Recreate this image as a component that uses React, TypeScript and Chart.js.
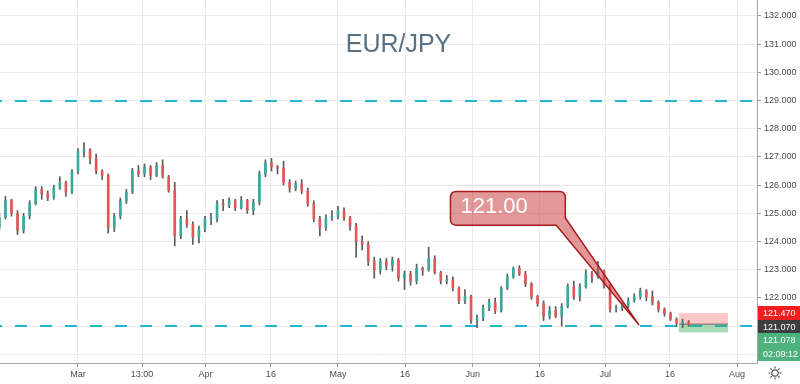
import React, { useEffect, useRef } from "react";
import { Chart, registerables } from "chart.js";
Chart.register(...registerables);

// ---------- data (daily candles, trading-day index; Mar 1 = 0) ----------
const firstIndex = -13;
const opens = [
  124.5, 124.85, 125.45, 125.0, 124.4, 124.9, 125.35, 125.85, 125.7, 125.55, 125.9, 126.1, 125.75,
  126.5, 127.2, 127.25, 126.95, 126.5, 126.35, 124.5, 124.9, 125.45, 125.75, 126.5, 126.4, 126.65, 126.35, 126.7, 126.3, 125.8, 124.2, 124.8, 124.6, 124.15,
  124.45, 124.8, 124.8, 125.35, 125.3, 125.45, 125.2, 125.45, 125.1, 125.4, 126.4, 126.8, 126.65, 126.6, 126.1, 125.9, 126.05, 125.8, 125.35, 124.8, 124.5, 124.85,
  124.9, 125.1, 124.85, 124.55, 124.0, 123.9, 123.3, 123.0, 123.3, 123.15, 123.35, 122.7, 122.85, 122.6, 123.05, 123.0, 123.4, 122.9, 122.6, 122.65, 122.35, 121.9, 122.05,
  121.2, 121.3, 121.65, 121.85, 121.55, 122.35, 122.75, 123.05, 122.85, 122.5, 122.05, 121.8, 121.35, 121.55, 121.35, 121.7, 122.4, 122.05, 122.4, 122.85,
  122.75, 122.95, 122.45, 121.6, 121.65, 121.7, 121.9, 122.05, 122.25, 122.05, 121.85, 121.6, 121.45, 121.25, 121.1, 121.15,
];
const closes = [
  124.85, 125.45, 125.0, 124.4, 124.9, 125.35, 125.85, 125.7, 125.55, 125.9, 126.1, 125.75, 126.5,
  127.2, 127.25, 126.95, 126.5, 126.35, 124.5, 124.9, 125.45, 125.75, 126.5, 126.4, 126.65, 126.35, 126.7, 126.3, 125.8, 124.2, 124.8, 124.6, 124.15, 124.45,
  124.8, 124.8, 125.35, 125.3, 125.45, 125.2, 125.45, 125.1, 125.4, 126.4, 126.8, 126.65, 126.6, 126.1, 125.9, 126.05, 125.8, 125.35, 124.8, 124.5, 124.85, 124.9,
  125.1, 124.85, 124.55, 124.0, 123.9, 123.3, 123.0, 123.3, 123.15, 123.35, 122.7, 122.85, 122.6, 123.05, 123.0, 123.4, 122.9, 122.6, 122.65, 122.35, 121.9, 122.05, 121.2,
  121.3, 121.65, 121.85, 121.55, 122.35, 122.75, 123.05, 122.85, 122.5, 122.05, 121.8, 121.35, 121.55, 121.35, 121.7, 122.4, 122.05, 122.4, 122.85, 122.75,
  122.95, 122.45, 121.6, 121.65, 121.7, 121.9, 122.05, 122.25, 122.05, 121.85, 121.6, 121.45, 121.25, 121.1, 121.15, 121.07,
];
const highs = [
  125.0, 125.6, 125.5, 125.1, 125.0, 125.45, 125.95, 125.95, 125.8, 126.0, 126.3, 126.15, 126.55,
  127.3, 127.5, 127.3, 127.1, 126.55, 126.4, 125.0, 125.55, 125.85, 126.6, 126.7, 126.75, 126.7, 126.8, 126.9, 126.35, 126.1, 124.9, 125.1, 124.7, 124.55,
  124.9, 125.0, 125.45, 125.5, 125.55, 125.5, 125.6, 125.5, 125.5, 126.5, 126.9, 126.95, 126.7, 126.85, 126.2, 126.15, 126.2, 125.9, 125.45, 124.9, 124.95, 125.1,
  125.25, 125.2, 124.9, 124.65, 124.2, 124.0, 123.45, 123.4, 123.4, 123.45, 123.4, 122.95, 122.95, 123.2, 123.1, 123.8, 123.5, 122.95, 122.8, 122.75, 122.4, 122.3, 122.1,
  121.4, 121.75, 121.95, 122.0, 122.4, 122.85, 123.1, 123.15, 122.95, 122.55, 122.1, 121.9, 121.7, 121.7, 121.8, 122.5, 122.6, 122.5, 123.0, 122.95,
  123.3, 123.0, 122.5, 121.75, 121.8, 122.0, 122.15, 122.35, 122.3, 122.25, 121.9, 121.65, 121.5, 121.3, 121.25, 121.2,
];
const lows = [
  124.4, 124.8, 124.9, 124.25, 124.3, 124.8, 125.3, 125.5, 125.45, 125.5, 125.85, 125.6, 125.7,
  126.4, 127.0, 126.75, 126.4, 126.2, 124.3, 124.35, 124.8, 125.35, 125.7, 126.3, 126.3, 126.2, 126.3, 126.25, 125.75, 123.85, 124.1, 124.5, 123.9, 123.95,
  124.35, 124.6, 124.7, 125.1, 125.2, 125.1, 125.15, 125.0, 124.95, 125.3, 126.3, 126.5, 126.4, 126.0, 125.75, 125.8, 125.7, 125.25, 124.7, 124.2, 124.4, 124.75,
  124.8, 124.75, 124.4, 123.45, 123.7, 123.15, 122.7, 122.85, 123.0, 122.95, 122.6, 122.3, 122.45, 122.5, 122.8, 122.95, 122.85, 122.5, 122.5, 122.25, 121.8, 121.8, 121.1,
  120.95, 121.2, 121.55, 121.45, 121.5, 122.3, 122.7, 122.8, 122.4, 121.95, 121.7, 121.2, 121.25, 121.3, 121.0, 121.65, 121.95, 121.9, 122.35, 122.55,
  122.7, 122.35, 121.5, 121.5, 121.55, 121.65, 121.85, 121.95, 121.9, 121.75, 121.5, 121.35, 121.2, 121.0, 120.95, 121.0,
];

const xTickPos = [0, 10.6, 21.1, 31.9, 43.0, 54.1, 65.3, 76.4, 87.2, 97.9, 109.0];
const xTickLabels = ["Mar", "13:00", "Apr", "16", "May", "16", "Jun", "16", "Jul", "16", "Aug"];
const yTickVals = [120, 121, 122, 123, 124, 125, 126, 127, 128, 129, 130, 131, 132];

const levels = [129.0, 121.0];
const calloutText = "121.00";
// bubble: [xStart, xEnd] in day index, [top, bottom] in price
const calloutBox = [61.6, 80.6, 125.78, 124.58];
const calloutTailBaseX = 79.1;
const calloutTailRightY = 124.84;
const calloutTip = [92.8, 121.04];

const positionRange = [99.4, 107.5];
const positionTarget = 121.47;
const positionEntry = 121.07;
const positionStop = 120.78;

const axisTagTexts = ["121.470", "121.070", "121.078", "02:09:12"];
const axisTagColors = ["#f21d1d", "#3e3e3e", "#4db27c", "#4db27c"];

const title = "EUR/JPY";

const UP = "#3aa99c";
const DOWN = "#e25858";
const WICK = "#5a5a5a";
const LEVEL = "#24b6d1";
const FONT = '"Liberation Sans", Arial, sans-serif';

const overlay = {
  id: "overlay",
  beforeDatasetsDraw(chart: any) {
    const { ctx, chartArea: a, scales } = chart;
    const x = scales.x, y = scales.y;
    ctx.save();
    ctx.fillStyle = "#577082";
    ctx.font = `25px ${FONT}`;
    ctx.textAlign = "center";
    ctx.textBaseline = "middle";
    ctx.fillText(title, (a.left + a.right) / 2 + 20, 45);
    ctx.strokeStyle = LEVEL;
    ctx.lineWidth = 2;
    ctx.setLineDash([12, 13]);
    ctx.lineDashOffset = -15;
    for (const lv of levels) {
      const py = Math.round(y.getPixelForValue(lv));
      ctx.beginPath();
      ctx.moveTo(a.left, py);
      ctx.lineTo(a.right, py);
      ctx.stroke();
    }
    ctx.setLineDash([]);
    const x0 = x.getPixelForValue(positionRange[0]);
    const x1 = x.getPixelForValue(positionRange[1]);
    const yT = y.getPixelForValue(positionTarget);
    const yE = y.getPixelForValue(positionEntry);
    const yS = y.getPixelForValue(positionStop);
    ctx.fillStyle = "rgba(244, 80, 80, 0.32)";
    ctx.fillRect(x0, yT, x1 - x0, yE - yT);
    ctx.fillStyle = "rgba(60, 175, 90, 0.45)";
    ctx.fillRect(x0, yE, x1 - x0, yS - yE);
    ctx.strokeStyle = "#8a8a8a";
    ctx.lineWidth = 1.5;
    ctx.beginPath();
    ctx.moveTo(x0, yE);
    ctx.lineTo(x1, yE);
    ctx.stroke();
    ctx.restore();
  },
  afterDatasetsDraw(chart: any) {
    const { ctx, scales } = chart;
    const x = scales.x, y = scales.y;
    const L = x.getPixelForValue(calloutBox[0]);
    const R = x.getPixelForValue(calloutBox[1]);
    const T = y.getPixelForValue(calloutBox[2]);
    const B = y.getPixelForValue(calloutBox[3]);
    const bx = x.getPixelForValue(calloutTailBaseX);
    const ry = y.getPixelForValue(calloutTailRightY);
    const tx = x.getPixelForValue(calloutTip[0]);
    const ty = y.getPixelForValue(calloutTip[1]);
    const r = 6;
    ctx.save();
    ctx.beginPath();
    ctx.moveTo(L + r, T);
    ctx.lineTo(R - r, T);
    ctx.quadraticCurveTo(R, T, R, T + r);
    ctx.lineTo(R, ry);
    ctx.lineTo(tx, ty);
    ctx.lineTo(bx, B);
    ctx.lineTo(L + r, B);
    ctx.quadraticCurveTo(L, B, L, B - r);
    ctx.lineTo(L, T + r);
    ctx.quadraticCurveTo(L, T, L + r, T);
    ctx.closePath();
    ctx.fillStyle = "rgba(200, 55, 60, 0.52)";
    ctx.fill();
    ctx.strokeStyle = "#a81c1c";
    ctx.lineWidth = 1.5;
    ctx.stroke();
    ctx.fillStyle = "#ffffff";
    ctx.font = `22px ${FONT}`;
    ctx.textAlign = "left";
    ctx.textBaseline = "middle";
    ctx.fillText(calloutText, L + 10, (T + B) / 2 - 1);
    ctx.restore();
  },
  afterDraw(chart: any) {
    const { ctx, chartArea: a, scales } = chart;
    const y = scales.y;
    ctx.save();
    const h = 13.7;
    let cy = y.getPixelForValue(positionTarget);
    for (let i = 0; i < axisTagTexts.length; i++) {
      ctx.fillStyle = axisTagColors[i];
      ctx.fillRect(a.right + 1, Math.round(cy - h / 2), chart.width - a.right - 1, Math.round(h));
      ctx.fillStyle = "#ffffff";
      ctx.font = `9px ${FONT}`;
      ctx.textAlign = "left";
      ctx.textBaseline = "middle";
      ctx.fillText(axisTagTexts[i], a.right + 6, cy + 0.5);
      cy += h;
    }
    const gx = chart.width - 25, gy = chart.height - 11;
    ctx.strokeStyle = "#555";
    ctx.lineWidth = 1.2;
    ctx.beginPath();
    ctx.arc(gx, gy, 3.2, 0, Math.PI * 2);
    ctx.stroke();
    ctx.beginPath();
    for (let k = 0; k < 8; k++) {
      const ang = (k * Math.PI) / 4;
      ctx.moveTo(gx + Math.cos(ang) * 4.5, gy + Math.sin(ang) * 4.5);
      ctx.lineTo(gx + Math.cos(ang) * 6.5, gy + Math.sin(ang) * 6.5);
    }
    ctx.stroke();
    ctx.restore();
  },
};

export default function App() {
  const ref = useRef<HTMLCanvasElement>(null);
  useEffect(() => {
    const idx = opens.map((_, i) => firstIndex + i);
    const colors = opens.map((o, i) => (closes[i] >= o ? UP : DOWN));
    const chart = new Chart(ref.current as HTMLCanvasElement, {
      type: "bar",
      data: {
        datasets: [
          {
            data: idx.map((d, i) => ({ x: d, y: [lows[i], highs[i]] })) as any,
            backgroundColor: WICK,
            barThickness: 1,
            grouped: false,
            order: 2,
          } as any,
          {
            data: idx.map((d, i) => ({ x: d, y: [opens[i], closes[i]] })) as any,
            backgroundColor: colors,
            barThickness: 2,
            minBarLength: 1,
            grouped: false,
            order: 1,
          } as any,
        ],
      },
      options: {
        responsive: false,
        animation: false,
        layout: { padding: 0 },
        plugins: { legend: { display: false }, tooltip: { enabled: false } },
        scales: {
          x: {
            type: "linear",
            min: -12.9,
            max: 112.3,
            offset: false,
            grid: { color: "#ebebeb", offset: false, tickLength: 4, tickColor: "#9a9a9a" },
            border: { color: "#a8a8a8", width: 1 },
            afterBuildTicks: (s: any) => {
              s.ticks = xTickPos.map((v) => ({ value: v }));
            },
            afterFit: (s: any) => {
              s.height = 21;
              s.paddingLeft = 0;
              s.paddingRight = 0;
            },
            ticks: {
              autoSkip: false,
              maxRotation: 0,
              padding: 2,
              color: "#4a4a4a",
              font: { family: FONT, size: 9 },
              callback: (_v: any, i: number) => xTickLabels[i],
            },
          },
          y: {
            type: "linear",
            position: "right",
            min: 119.695,
            max: 132.567,
            grid: { color: "#ebebeb", tickLength: 4, tickColor: "#9a9a9a" },
            border: { color: "#a8a8a8", width: 1 },
            afterBuildTicks: (s: any) => {
              s.ticks = yTickVals.map((v) => ({ value: v }));
            },
            afterFit: (s: any) => {
              s.width = 43;
              s.paddingTop = 0;
              s.paddingBottom = 0;
            },
            ticks: {
              padding: 3,
              color: "#4a4a4a",
              font: { family: FONT, size: 9 },
              callback: (v: any) => Number(v).toFixed(3),
            },
          },
        },
      } as any,
      plugins: [overlay],
    });
    return () => chart.destroy();
  }, []);
  return (
    <div style={{ position: "fixed", left: 0, top: 0, width: 800, height: 384, background: "#fff" }}>
      <canvas ref={ref} width={800} height={384} />
    </div>
  );
}
